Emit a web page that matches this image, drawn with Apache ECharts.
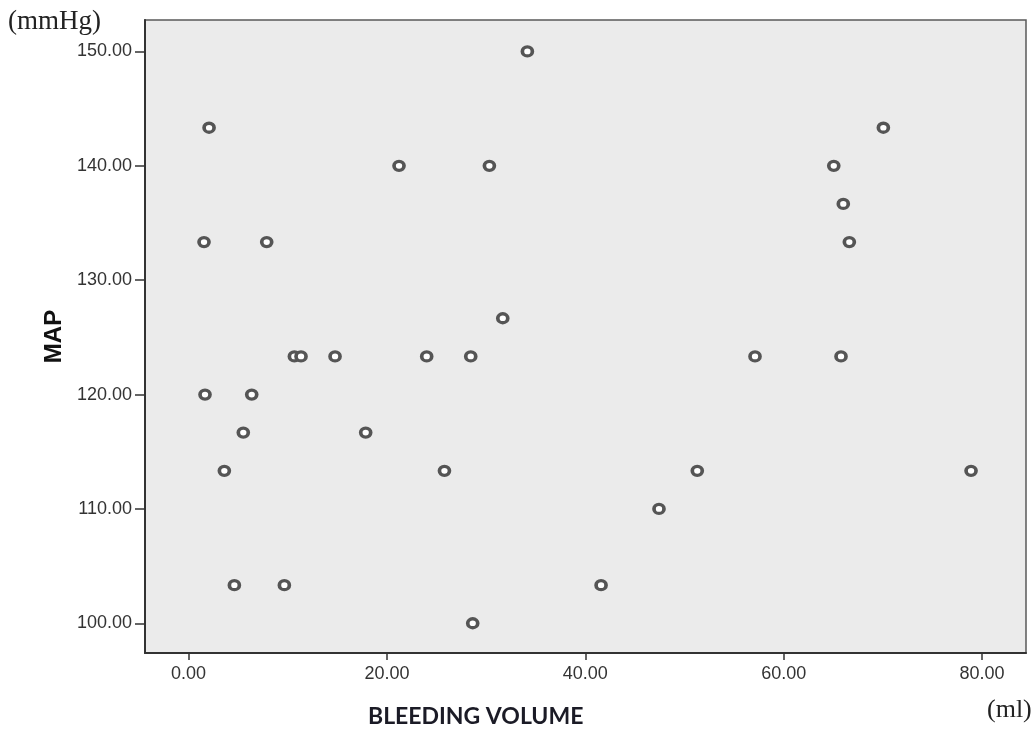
<!DOCTYPE html>
<html lang="en">
<head>
    <meta charset="UTF-8">
    <title>MAP vs Bleeding volume</title>
    <style>
        html, body { margin: 0; padding: 0; background: #fff; }
        #main { width: 1036px; height: 731px; }
    </style>
</head>
<body>
<div id="main"></div>

<script src="https://cdn.jsdelivr.net/npm/echarts@6.0.0/dist/echarts.min.js"></script>
<script>
    // bleeding volume (ml)
    let bleedVolume = [34.16, 2.07, 70.05, 21.22, 30.33, 65.05, 66.01, 1.56, 7.88, 66.62,
        31.68, 10.67, 11.34, 14.77, 24.01, 28.45, 57.11, 65.78, 1.66, 6.37,
        5.52, 17.86, 3.61, 25.8, 51.29, 78.89, 47.43, 4.62, 9.66, 41.59, 28.65];
    // MAP (mmHg)
    let mapValues = [150, 143.33, 143.33, 140, 140, 140, 136.67, 133.33, 133.33, 133.33,
        126.67, 123.33, 123.33, 123.33, 123.33, 123.33, 123.33, 123.33, 120, 120,
        116.67, 116.67, 113.33, 113.33, 113.33, 113.33, 110, 103.33, 103.33, 103.33, 100];

    let xTicks = [0, 20, 40, 60, 80];
    let yTicks = [100, 110, 120, 130, 140, 150];

    let points = bleedVolume.map((v, i) => [v, mapValues[i]]);

    let myChart = echarts.init(document.getElementById('main'));

    let option = {
        animation: false,
        grid: {
            left: 145, top: 20, right: 10, bottom: 78,
            show: true,
            backgroundColor: '#ebebeb',
            borderColor: '#5a5a5a',
            borderWidth: 1.5
        },
        xAxis: {
            type: 'value',
            min: -4.39,
            max: 84.43,
            splitLine: { show: false },
            axisLine: { show: true, onZero: false, lineStyle: { color: '#333', width: 2 } },
            axisTick: { show: true, customValues: xTicks, length: 7, lineStyle: { color: '#333', width: 1.5 } },
            axisLabel: {
                customValues: xTicks,
                margin: 12,
                fontFamily: 'Liberation Sans',
                fontSize: 18,
                color: '#333',
                formatter: v => v.toFixed(2)
            }
        },
        yAxis: {
            type: 'value',
            min: 97.40,
            max: 152.75,
            name: 'MAP',
            nameLocation: 'middle',
            nameRotate: 90,
            nameGap: 78,
            nameTextStyle: { fontFamily: 'Liberation Sans', fontWeight: 'bold', fontSize: 24, color: '#111' },
            splitLine: { show: false },
            axisLine: { show: true, onZero: false, lineStyle: { color: '#333', width: 2 } },
            axisTick: { show: true, customValues: yTicks, length: 10, lineStyle: { color: '#333', width: 1.5 } },
            axisLabel: {
                customValues: yTicks,
                margin: 13,
                fontFamily: 'Liberation Sans',
                fontSize: 18,
                color: '#333',
                formatter: v => v.toFixed(2)
            }
        },
        graphic: [
            {
                type: 'text', left: 8, top: 8,
                style: { text: '(mmHg)', font: '27px "Liberation Serif"', fill: '#222' }
            },
            {
                type: 'text', left: 987, top: 697,
                style: { text: '(ml)', font: '26px "Liberation Serif"', fill: '#222' }
            },
            {
                type: 'text', left: 368, top: 705,
                style: { text: 'BLEEDING VOLUME', font: 'bold 23px Lato', fill: '#1b1b26' }
            }
        ],
        series: [{
            type: 'scatter',
            data: points,
            symbol: 'circle',
            symbolSize: [10, 9],
            itemStyle: { color: '#ffffff', borderColor: '#555', borderWidth: 3.5, opacity: 1 }
        }]
    };

    myChart.setOption(option);
</script>
</body>
</html>
